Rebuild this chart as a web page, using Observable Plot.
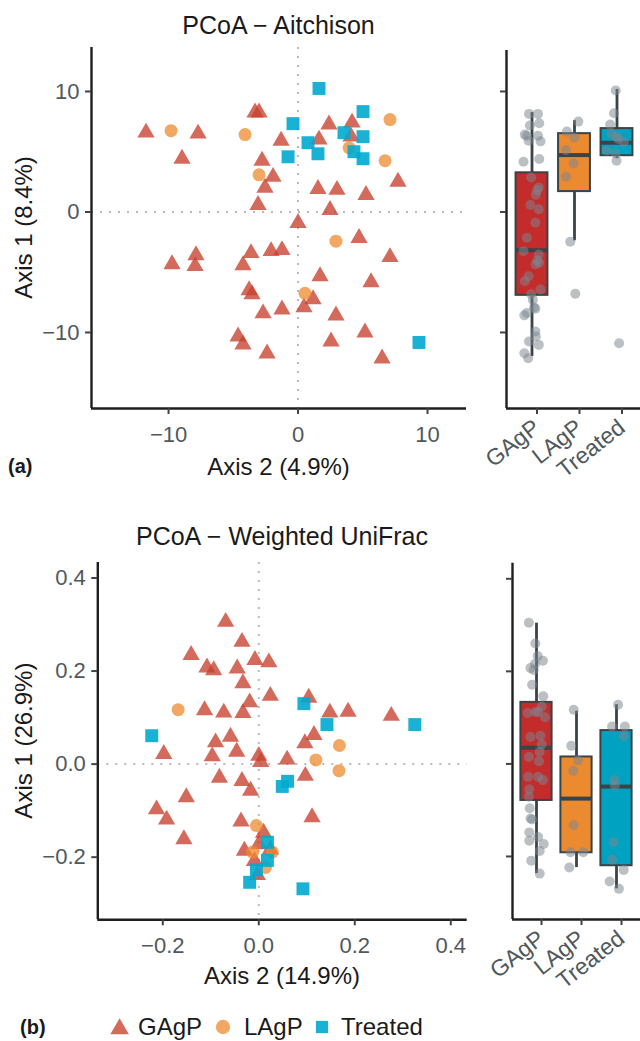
<!DOCTYPE html>
<html><head><meta charset="utf-8">
<script src="https://cdn.jsdelivr.net/npm/d3@7"></script>
<script src="https://cdn.jsdelivr.net/npm/@observablehq/plot@0.6"></script>
<style>
body{margin:0;background:#fff;}
#root{position:relative;width:640px;height:1041px;overflow:hidden;background:#fff;font-family:"Liberation Sans",Arial,Helvetica,sans-serif;}
</style></head>
<body><div id="root"></div>
<script>
// ---------- data ----------
const groups = ["GAgP", "LAgP", "Treated"];

// (a) PCoA – Aitchison : [Axis 2, Axis 1]
const aitGAgP = [[-11.74,6.75],[-7.72,6.67],[-8.96,4.58],[-3.32,8.42],[-3.01,8.42],[-1.31,6.08],[-2.78,4.42],[-1.93,3.08],[-2.55,2.17],[-3.09,0.75],[2.39,7.42],[4.17,7.58],[4.09,6.42],[1.62,6.17],[7.72,2.67],[1.54,2.08],[3.01,2.0],[5.25,1.58],[2.47,0.33],[0.0,-0.75],[-9.73,-4.17],[-7.88,-3.42],[-7.95,-4.33],[-3.63,-3.25],[-4.25,-4.25],[-2.08,-3.08],[-1.24,-3.0],[-3.78,-6.33],[-3.55,-6.67],[-2.70,-8.25],[-1.24,-7.92],[-4.63,-10.17],[-4.25,-10.83],[-2.39,-11.58],[4.71,-2.0],[7.10,-3.58],[1.70,-5.17],[5.64,-5.67],[1.16,-7.08],[0.46,-7.75],[2.93,-8.42],[5.17,-9.83],[2.55,-10.58],[6.49,-12.0]];
const aitLAgP = [[-9.81,6.75],[-4.09,6.42],[-3.01,3.08],[7.10,7.67],[3.94,5.33],[6.72,4.25],[2.93,-2.42],[0.54,-6.75]];
const aitTreated = [[1.62,10.25],[5.02,8.33],[-0.39,7.33],[3.55,6.58],[5.02,6.25],[0.77,5.75],[4.32,5.0],[5.02,4.42],[-0.77,4.58],[1.54,4.83],[9.34,-10.83]];

// (a) box statistics on Axis 1, order GAgP, LAgP, Treated
const aitQ1 = [-6.92, 1.69, 4.67];
const aitMed = [-3.17, 4.72, 5.75];
const aitQ3 = [3.25, 6.5, 6.92];
const aitLo = [-12.0, -2.39, 4.42];
const aitHi = [8.25, 7.58, 10.17];
// (a) jittered points: [offset from category, Axis 1]
const aitJitGAgP = [[-0.07,8.14],[0.14,8.14],[-0.05,7.17],[0.17,7.36],[-0.17,6.42],[-0.12,6.33],[0.14,6.33],[-0.08,5.92],[0.20,5.86],[-0.20,4.17],[0.17,4.39],[-0.02,2.86],[0.16,2.03],[0.12,1.81],[0.09,1.42],[-0.04,0.58],[0.16,0.22],[0.08,-0.89],[-0.12,-2.14],[-0.20,-3.25],[0.16,-3.53],[0.12,-4.03],[0.08,-4.36],[0.17,-4.22],[-0.08,-5.33],[-0.17,-5.75],[0.20,-6.44],[-0.02,-6.81],[0.02,-7.28],[0.05,-7.92],[0.08,-8.03],[-0.18,-8.58],[-0.12,-8.39],[0.08,-9.92],[0.09,-10.33],[-0.07,-10.75],[0.16,-11.03],[-0.18,-11.72],[-0.09,-12.14]];
const aitJitLAgP = [[-0.18,6.67],[0.09,7.5],[0.0,6.17],[-0.20,5.14],[-0.02,4.03],[-0.20,2.92],[-0.10,-2.47],[0.02,-6.78]];
const aitJitTreated = [[-0.03,10.08],[-0.07,8.19],[-0.16,7.25],[-0.13,6.47],[-0.01,6.25],[0.16,5.78],[-0.24,5.08],[-0.03,4.86],[-0.01,4.25],[0.03,6.06],[0.05,-10.89]];

// (b) PCoA – Weighted UniFrac : [Axis 2, Axis 1]
const wufGAgP = [[-0.069,0.310],[-0.035,0.267],[-0.141,0.239],[-0.108,0.212],[-0.094,0.206],[-0.045,0.210],[-0.008,0.228],[0.021,0.223],[-0.033,0.178],[0.024,0.151],[-0.019,0.137],[-0.033,0.114],[-0.113,0.120],[-0.073,0.115],[0.104,0.147],[0.148,0.115],[0.186,0.117],[0.276,0.108],[-0.198,0.026],[-0.090,0.051],[-0.059,0.063],[-0.097,0.021],[-0.046,0.031],[0.000,0.022],[0.004,0.009],[0.059,0.014],[-0.082,-0.025],[-0.035,-0.032],[-0.017,-0.053],[-0.151,-0.067],[-0.213,-0.093],[-0.192,-0.115],[-0.037,-0.119],[-0.156,-0.157],[0.010,-0.143],[0.115,0.067],[0.096,0.049],[0.097,-0.021],[0.111,-0.110],[0.000,-0.168],[-0.030,-0.182],[0.024,-0.179],[-0.009,-0.204],[-0.003,-0.234]];
const wufLAgP = [[-0.168,0.117],[0.168,0.040],[0.119,0.009],[0.167,-0.014],[-0.005,-0.132],[-0.013,-0.189],[0.028,-0.189],[0.014,-0.222]];
const wufTreated = [[0.094,0.130],[-0.223,0.061],[0.142,0.085],[0.325,0.085],[0.060,-0.037],[0.049,-0.048],[0.018,-0.168],[0.018,-0.207],[-0.005,-0.227],[-0.019,-0.254],[0.092,-0.268]];

const wufQ1 = [-0.079, -0.192, -0.220];
const wufMed = [0.035, -0.075, -0.049];
const wufQ3 = [0.133, 0.015, 0.072];
const wufLo = [-0.237, -0.224, -0.270];
const wufHi = [0.304, 0.114, 0.128];
const wufJitGAgP = [[-0.19,0.305],[-0.03,0.260],[0.03,0.233],[0.16,0.223],[-0.04,0.216],[-0.15,0.207],[-0.07,0.203],[-0.11,0.171],[0.17,0.146],[0.13,0.124],[-0.03,0.112],[0.04,0.112],[-0.22,0.110],[0.21,0.101],[-0.15,0.058],[0.10,0.061],[0.13,0.042],[-0.19,0.015],[0.08,0.026],[0.06,0.006],[-0.21,-0.028],[0.04,-0.028],[0.16,-0.035],[-0.18,-0.055],[-0.19,-0.071],[-0.17,-0.096],[-0.15,-0.118],[-0.11,-0.120],[-0.18,-0.148],[0.04,-0.158],[-0.18,-0.166],[0.18,-0.173],[0.08,-0.188],[-0.13,-0.209],[0.08,-0.237]];
const wufJitLAgP = [[-0.07,0.117],[-0.13,0.039],[0.04,0.008],[-0.08,-0.015],[-0.07,-0.132],[-0.15,-0.191],[0.17,-0.191],[-0.18,-0.224]];
const wufJitTreated = [[0.04,0.128],[-0.11,0.081],[0.21,0.081],[0.18,0.060],[-0.05,-0.035],[-0.04,-0.046],[-0.07,-0.169],[-0.11,-0.207],[0.18,-0.229],[-0.17,-0.254],[0.06,-0.270]];

const aitTicksX = [-10, 0, 10];
const aitTicksY = [-10, 0, 10];
const wufTicks = [-0.2, 0.0, 0.2, 0.4];

// ---------- styles ----------
const FONT = '"Liberation Sans", Arial, Helvetica, sans-serif';
const pointColors = ["#C8402E", "#EE8A2E", "#00AACF"];
const pointOpacity = [0.78, 0.75, 0.9];
const symbols = ["triangle", "circle", "square"];
const symbolR = [6.4, 6.5, 7.3];
const boxFills = ["#C42B2B", "#EC8A30", "#00A2C2"];
const boxInk = "#3a4346";
const axisInk = "#1f1f1f";
const tickInk = "#3d4548";
const labelInk = "#50585c";
const dotted = {stroke: "#b7bbc0", strokeWidth: 2, strokeDasharray: "2,7"};

const root = document.getElementById("root");
function place(node, left, top) {
  node.style.position = "absolute";
  node.style.left = left + "px";
  node.style.top = top + "px";
  root.appendChild(node);
}
const svgStyle = {fontFamily: FONT, fontSize: "22px", background: "transparent", overflow: "visible"};

function scatterPlot(c) {
  const marks = [Plot.ruleX([0], dotted), Plot.ruleY([0], dotted)];
  c.series.forEach((pts, k) => {
    marks.push(Plot.dot(pts, {x: d => d[0], y: d => d[1], symbol: symbols[k], r: symbolR[k],
      fill: pointColors[k], fillOpacity: pointOpacity[k], dy: k === 0 ? 2 : 0}));
  });
  marks.push(Plot.ruleX([c.xDomain[0]], {stroke: axisInk, strokeWidth: 2.4}));
  marks.push(Plot.ruleY([c.yDomain[0]], {stroke: axisInk, strokeWidth: 2.4}));
  marks.push(Plot.axisX({ticks: c.xTicks, tickFormat: c.fmt, tickSize: 6, tickPadding: 12,
    stroke: tickInk, strokeWidth: 2, color: labelInk, fontSize: 22, label: null}));
  marks.push(Plot.axisY({ticks: c.yTicks, tickFormat: c.fmt, tickSize: 6, tickPadding: 6,
    stroke: tickInk, strokeWidth: 2, color: labelInk, fontSize: 22, label: null}));
  return Plot.plot({
    width: c.width, height: c.height,
    marginLeft: c.ml, marginRight: c.mr, marginTop: c.mt, marginBottom: c.mb,
    x: {domain: c.xDomain}, y: {domain: c.yDomain},
    style: svgStyle, marks
  });
}

function boxPlot(c) {
  const marks = [];
  groups.forEach((g, k) => {
    const row = [{i: k + 1, q1: c.q1[k], med: c.med[k], q3: c.q3[k], lo: c.lo[k], hi: c.hi[k]}];
    marks.push(Plot.ruleX(row, {x: "i", y1: "lo", y2: "hi", stroke: boxInk, strokeWidth: 2.8}));
    marks.push(Plot.rect(row, {x1: d => d.i - c.w / 2, x2: d => d.i + c.w / 2, y1: "q1", y2: "q3",
      fill: boxFills[k], stroke: boxInk, strokeWidth: 2}));
    marks.push(Plot.ruleY(row, {y: "med", x1: d => d.i - c.w / 2, x2: d => d.i + c.w / 2,
      stroke: boxInk, strokeWidth: 4}));
  });
  c.jitter.forEach((pts, k) => {
    marks.push(Plot.dot(pts, {x: d => k + 1 + d[0], y: d => d[1], r: 5, fill: "#7c8790", fillOpacity: 0.52}));
  });
  marks.push(Plot.ruleX([c.xDomain[0]], {stroke: axisInk, strokeWidth: 2.4}));
  marks.push(Plot.ruleY([c.yDomain[0]], {stroke: axisInk, strokeWidth: 2.4}));
  marks.push(Plot.axisX({ticks: [1, 2, 3], tickFormat: d => groups[d - 1], tickRotate: -38,
    tickSize: 6, tickPadding: 10, dx: 5, stroke: tickInk, strokeWidth: 2, color: labelInk, fontSize: 23, label: null}));
  marks.push(Plot.axisY({ticks: c.yTicks, tickFormat: () => "", tickSize: 6, tickPadding: 4,
    stroke: tickInk, strokeWidth: 2, label: null}));
  return Plot.plot({
    width: c.width, height: c.height,
    marginLeft: c.ml, marginRight: 0, marginTop: c.mt, marginBottom: c.mb,
    x: {domain: c.xDomain}, y: {domain: c.yDomain},
    style: svgStyle, marks
  });
}

// ---------- panel (a) ----------
place(scatterPlot({
  series: [aitGAgP, aitLAgP, aitTreated],
  width: 470, height: 440, ml: 91, mr: 4, mt: 7, mb: 72,
  xDomain: [-15.95, 13.01], yDomain: [-16.31, 13.65],
  xTicks: aitTicksX, yTicks: aitTicksY, fmt: d3.format("d")
}), 0, 40);

place(boxPlot({
  q1: aitQ1, med: aitMed, q3: aitQ3, lo: aitLo, hi: aitHi,
  jitter: [aitJitGAgP, aitJitLAgP, aitJitTreated], w: 0.75,
  width: 220, height: 440, ml: 86, mt: 10, mb: 72,
  xDomain: [0.4, 3.553], yDomain: [-16.31, 13.40], yTicks: aitTicksY
}), 420, 40);

// ---------- panel (b) ----------
place(scatterPlot({
  series: [wufGAgP, wufLAgP, wufTreated],
  width: 470, height: 440, ml: 97.3, mr: 3.3, mt: 12, mb: 70.7,
  xDomain: [-0.3354, 0.4342], yDomain: [-0.3346, 0.4333],
  xTicks: wufTicks, yTicks: wufTicks, fmt: d3.format(".1f")
}), 0, 550);

place(boxPlot({
  q1: wufQ1, med: wufMed, q3: wufQ3, lo: wufLo, hi: wufHi,
  jitter: [wufJitGAgP, wufJitLAgP, wufJitTreated], w: 0.78,
  width: 220, height: 440, ml: 92, mt: 12.7, mb: 71,
  xDomain: [0.4, 3.6], yDomain: [-0.3362, 0.4337], yTicks: wufTicks
}), 420, 550);

// ---------- text overlay & legend ----------
const ov = d3.create("svg").attr("width", 640).attr("height", 1041)
  .style("font-family", FONT).style("pointer-events", "none");
function txt(s, x, y, o = {}) {
  const t = ov.append("text").attr("x", x).attr("y", y).text(s)
    .attr("font-size", o.size || 24).attr("fill", o.fill || "#1a1a1a")
    .attr("text-anchor", o.anchor || "middle");
  if (o.bold) t.attr("font-weight", "bold");
  if (o.rotate) t.attr("transform", `rotate(${o.rotate},${x},${y})`);
  return t;
}
txt("PCoA − Aitchison", 278.5, 33.5, {size: 25});
txt("Axis 1 (8.4%)", 32, 227.5, {rotate: -90});
txt("Axis 2 (4.9%)", 278.5, 475);
txt("(a)", 8, 473, {size: 20, bold: true, anchor: "start"});

txt("PCoA − Weighted UniFrac", 282, 545, {size: 25});
txt("Axis 1 (26.9%)", 32, 740.6, {rotate: -90});
txt("Axis 2 (14.9%)", 282, 984);
txt("(b)", 20, 1034, {size: 20, bold: true, anchor: "start"});

const legendX = [119.6, 223, 322];
const legendTextX = [138, 244, 341];
const legendSizes = [150, 160, 150];
groups.forEach((g, k) => {
  const sym = [d3.symbolTriangle, d3.symbolCircle, d3.symbolSquare][k];
  ov.append("path").attr("d", d3.symbol(sym, legendSizes[k])())
    .attr("transform", `translate(${legendX[k]},${k === 0 ? 1029 : 1027})`)
    .attr("fill", pointColors[k]).attr("fill-opacity", pointOpacity[k]);
  txt(g, legendTextX[k], 1035, {anchor: "start", size: 24});
});
place(ov.node(), 0, 0);
</script>
</body></html>
